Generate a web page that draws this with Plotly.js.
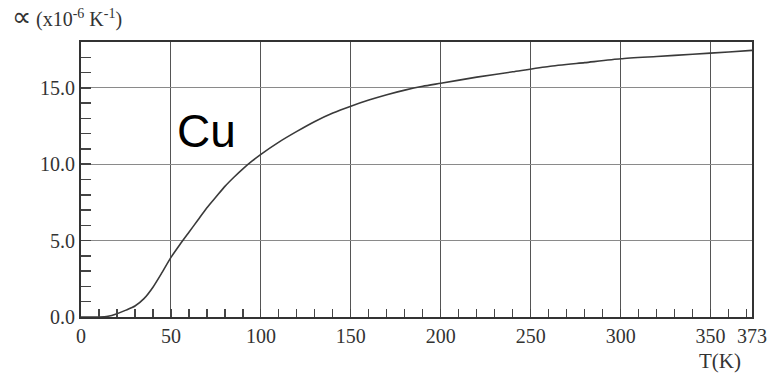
<!DOCTYPE html>
<html>
<head>
<meta charset="utf-8">
<script src="https://cdn.plot.ly/plotly-3.0.1.min.js"></script>
<style>html,body{margin:0;padding:0;background:#fff;}#chart{width:770px;height:373px;}</style>
</head>
<body>
<div id="chart"></div>
<script>
// Thermal expansion coefficient of copper vs temperature
const temperatureK = [0, 10, 15, 20, 25, 30, 35, 40, 45, 50, 55, 60, 65, 70, 75, 80, 85, 90, 95, 100, 110, 120, 130, 140, 150, 160, 170, 180, 190, 200, 220, 240, 260, 280, 300, 320, 340, 360, 373];
const alphaCu = [0, 0, 0.05, 0.22, 0.45, 0.72, 1.2, 1.95, 2.9, 3.9, 4.75, 5.55, 6.35, 7.15, 7.85, 8.55, 9.15, 9.7, 10.2, 10.65, 11.45, 12.15, 12.8, 13.35, 13.8, 14.2, 14.55, 14.85, 15.1, 15.3, 15.7, 16.05, 16.4, 16.65, 16.9, 17.05, 17.2, 17.35, 17.45];
const xTickVals = [0, 50, 100, 150, 200, 250, 300, 350, 373];
const xTickText = ['0', '50', '100', '150', '200', '250', '300', '350', '373'];
const yTickVals = [0, 5, 10, 15];
const yTickText = ['0.0', '5.0', '10.0', '15.0'];
const seriesLabel = 'Cu';
const yTitle = '<span style="font-size:27px">\u221D</span> (x10<sup>-6</sup> K<sup>-1</sup>)';
const xTitle = 'T(K)';

const serif = 'Liberation Serif';
const textColor = '#333';

const trace = {
  x: temperatureK,
  y: alphaCu,
  type: 'scatter',
  mode: 'lines',
  line: {color: '#3a3a3a', width: 1.6, shape: 'spline', smoothing: 0.6},
  hoverinfo: 'skip',
  showlegend: false
};

const layout = {
  width: 770,
  height: 373,
  margin: {l: 80.7, r: 18, t: 41.7, b: 55.5},
  paper_bgcolor: '#fff',
  plot_bgcolor: '#fff',
  showlegend: false,
  font: {family: serif, size: 20, color: textColor},
  xaxis: {
    range: [0, 373],
    tickmode: 'array',
    tickvals: xTickVals,
    ticktext: xTickText,
    ticks: 'inside',
    ticklen: 8,
    tickcolor: '#444',
    tickwidth: 1.2,
    showgrid: true,
    gridcolor: '#555',
    gridwidth: 1,
    zeroline: false,
    showline: true,
    linecolor: '#333',
    linewidth: 2,
    mirror: true,
    tickfont: {family: serif, size: 20, color: textColor},
    minor: {tick0: 0, dtick: 10, ticks: 'inside', ticklen: 8, tickcolor: '#444', tickwidth: 1.2, showgrid: false},
    fixedrange: true
  },
  yaxis: {
    range: [0, 18],
    tickmode: 'array',
    tickvals: yTickVals,
    ticktext: yTickText,
    ticks: 'inside',
    ticklen: 10,
    tickcolor: '#444',
    tickwidth: 1.5,
    showgrid: true,
    gridcolor: '#8a8a8a',
    gridwidth: 1,
    zeroline: false,
    showline: true,
    linecolor: '#333',
    linewidth: 2,
    mirror: true,
    tickfont: {family: serif, size: 20, color: textColor},
    minor: {tick0: 0, dtick: 1, ticks: 'inside', ticklen: 10, tickcolor: '#444', tickwidth: 1.5, showgrid: false},
    fixedrange: true
  },
  annotations: [
    {
      text: seriesLabel, x: 69.7, y: 12.2, xref: 'x', yref: 'y',
      showarrow: false, xanchor: 'center', yanchor: 'middle',
      font: {family: 'Liberation Sans', size: 46, color: '#000'}
    },
    {
      text: yTitle, x: -0.106, y: 1.092, xref: 'paper', yref: 'paper',
      showarrow: false, xanchor: 'left', yanchor: 'middle',
      font: {family: serif, size: 20, color: textColor}
    },
    {
      text: xTitle, x: 0.952, y: -0.16, xref: 'paper', yref: 'paper',
      showarrow: false, xanchor: 'center', yanchor: 'middle',
      font: {family: serif, size: 21, color: textColor}
    }
  ]
};

Plotly.newPlot('chart', [trace], layout, {staticPlot: true, displayModeBar: false});
</script>
</body>
</html>
